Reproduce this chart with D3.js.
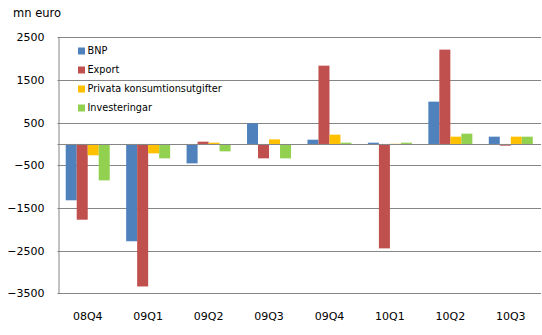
<!DOCTYPE html>
<html><head><meta charset="utf-8">
<script src="https://cdn.jsdelivr.net/npm/d3@7"></script>
<style>body{margin:0;background:#fff}svg{display:block}text{font-family:"DejaVu Sans",Verdana,sans-serif;fill:#000}</style>
</head><body><svg id="c" width="542" height="335"></svg>
<script>
const categories = ["08Q4","09Q1","09Q2","09Q3","09Q4","10Q1","10Q2","10Q3"];
const seriesNames = ["BNP","Export","Privata konsumtionsutgifter","Investeringar"];
const BNP = [-1320,-2280,-455,483,100,30,992,171];
const Export = [-1775,-3340,54,-337,1835,-2447,2211,-40];
const Privata = [-266,-220,30,108,218,5,171,171];
const Investeringar = [-853,-337,-173,-337,30,30,241,171];
const tickValues = [2500,1500,500,-500,-1500,-2500,-3500];
const colors = ["#4F81BD","#C0504D","#FFC000","#92D050"];
const values = [BNP, Export, Privata, Investeringar];

const svg = d3.select("#c");
const L = 57.5, R = 541, T = 37.3, B = 293.3;
const y = d3.scaleLinear().domain([-3500,2500]).range([B,T]);
const x0 = d3.scaleBand().domain(categories).range([L,R]).padding(0);
const step = x0.bandwidth();
const groupW = step*0.728;
const x1 = d3.scaleBand().domain(seriesNames).range([(step-groupW)/2,(step+groupW)/2]).padding(0);

// gridlines
svg.append("g").selectAll("line").data(tickValues).join("line")
  .attr("x1",L).attr("x2",R).attr("y1",d=>Math.round(y(d))+0.5).attr("y2",d=>Math.round(y(d))+0.5)
  .attr("stroke","#868686").attr("stroke-width",1);

// y axis
const yAxis = d3.axisLeft(y).tickValues(tickValues).tickSize(0).tickPadding(14).tickFormat(d3.format("d"));
const ga = svg.append("g").attr("transform",`translate(${Math.round(L)+0.5},0)`).call(yAxis);
ga.select(".domain").attr("stroke","#868686");
ga.selectAll("text").attr("font-size",11).attr("font-family","DejaVu Sans");

// bars
const g = svg.append("g");
categories.forEach((c,i)=>{
  seriesNames.forEach((s,j)=>{
    const v = values[j][i];
    g.append("rect")
      .attr("x", x0(c)+x1(s)).attr("width", x1.bandwidth())
      .attr("y", y(Math.max(0,v))).attr("height", Math.abs(y(v)-y(0)))
      .attr("fill", colors[j]);
  });
});

// zero axis
svg.append("line").attr("x1",L).attr("x2",R).attr("y1",Math.round(y(0))+0.5).attr("y2",Math.round(y(0))+0.5)
  .attr("stroke","#868686");

// x labels
const xAxis = d3.axisBottom(x0).tickSize(0).tickPadding(0);
const gx = svg.append("g").attr("transform","translate(0,312)").call(xAxis);
gx.select(".domain").remove();
gx.selectAll("text").attr("font-size",11).attr("font-family","DejaVu Sans").attr("dy","0.71em");

// title
svg.append("text").attr("x",13).attr("y",17).attr("font-size",11.5).text("mn euro");

// legend
const lg = svg.append("g");
seriesNames.forEach((s,j)=>{
  const yy = 51 + j*19;
  lg.append("rect").attr("x",78).attr("y",yy-3.5).attr("width",7).attr("height",7).attr("fill",colors[j]);
  lg.append("text").attr("x",87.5).attr("y",yy).attr("dy","0.35em").attr("font-size",9.7).text(s);
});
</script></body></html>
